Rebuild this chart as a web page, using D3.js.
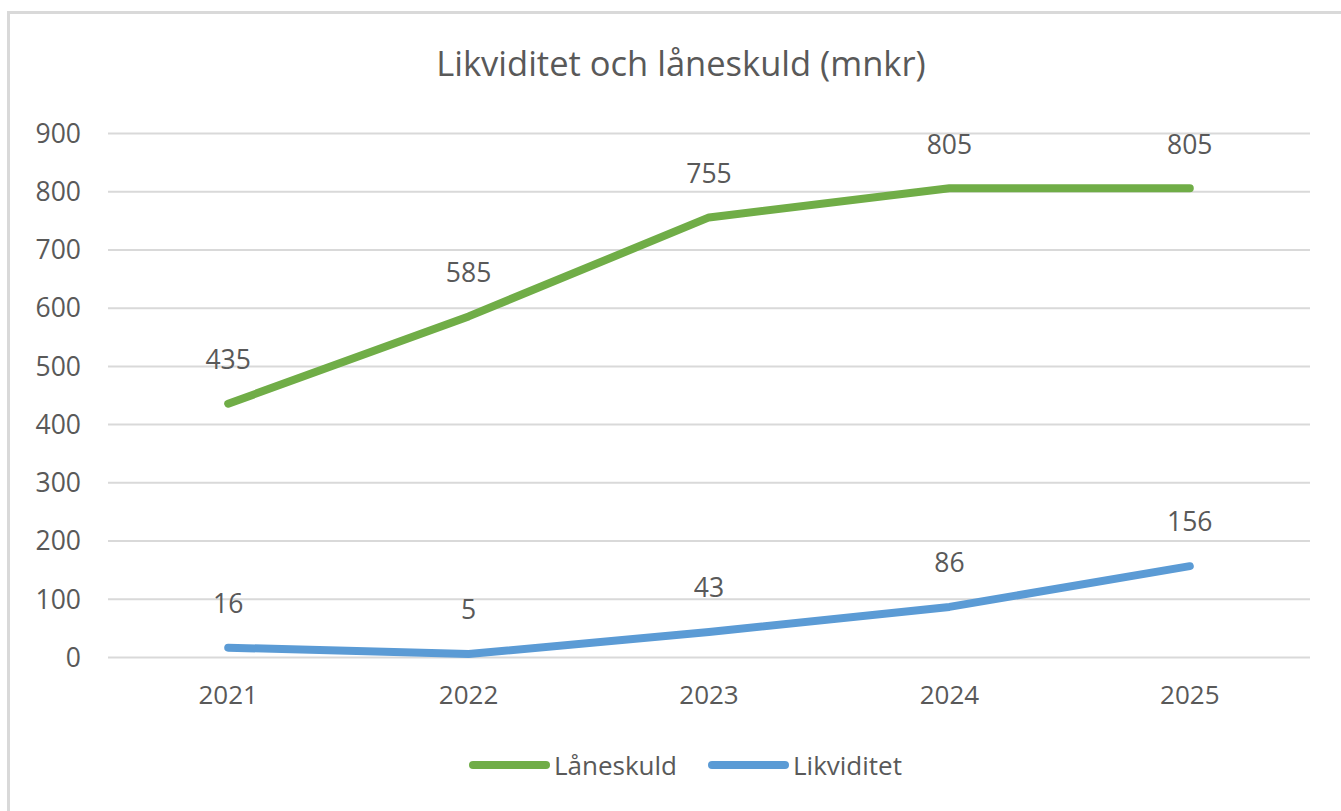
<!DOCTYPE html>
<html><head><meta charset="utf-8">
<script src="https://cdn.jsdelivr.net/npm/d3@7"></script>
<style>body{margin:0;background:#fff}svg{display:block}text{font-family:"Open Sans",sans-serif;fill:#595959}</style>
</head><body><svg id="c" width="1341" height="811"></svg>
<script>
const years = ["2021","2022","2023","2024","2025"];
const laneskuld = [435,585,755,805,805];
const likviditet = [16,5,43,86,156];
const yTicks = [0,100,200,300,400,500,600,700,800,900];
const seriesNames = ["Låneskuld","Likviditet"];
const colors = ["#70AD47","#5B9BD5"];
const title = "Likviditet och låneskuld (mnkr)";

const svg = d3.select("#c");
svg.append("rect").attr("x",8.5).attr("y",12.5).attr("width",1345).attr("height",810)
  .attr("fill","#fff").attr("stroke","#d9d9d9").attr("stroke-width",3);

const pL=108, pR=1310, pT=133, pB=657;
const x = d3.scaleBand().domain(years).range([pL,pR]);
const y = d3.scaleLinear().domain([0,900]).range([pB,pT]);

svg.append("text").attr("x",681).attr("y",76).attr("text-anchor","middle")
  .style("font-size","34.5px").text(title);

const gy = svg.append("g").attr("transform",`translate(${pL},0)`)
  .call(d3.axisLeft(y).tickValues(yTicks).tickSize(-(pR-pL)).tickPadding(27));
gy.select(".domain").remove();
gy.selectAll(".tick line").attr("stroke","#d9d9d9").attr("stroke-width",2);
gy.selectAll(".tick text").style("font-size","26.5px").attr("fill","#595959").attr("dy","0.35em");

const gx = svg.append("g").attr("transform",`translate(0,${pB})`)
  .call(d3.axisBottom(x).tickSize(0).tickPadding(29));
gx.select(".domain").remove();
gx.selectAll(".tick text").style("font-size","26px").attr("fill","#595959");

const data = [laneskuld, likviditet];
const line = d3.line().x((d,i)=>x(years[i])+x.bandwidth()/2).y(d=>y(d));
data.forEach((s,k)=>{
  svg.append("path").datum(s).attr("d",line).attr("fill","none")
    .attr("stroke",colors[k]).attr("stroke-width",8).attr("stroke-linecap","round").attr("stroke-linejoin","round");
  svg.append("g").selectAll("text").data(s).join("text")
    .attr("x",(d,i)=>x(years[i])+x.bandwidth()/2).attr("y",d=>y(d)-44)
    .attr("text-anchor","middle").attr("dy","0.35em").style("font-size","26.5px").text(d=>d);
});

const legX = [469,708];
seriesNames.forEach((n,k)=>{
  svg.append("line").attr("x1",legX[k]+4).attr("x2",legX[k]+77).attr("y1",765).attr("y2",765)
    .attr("stroke",colors[k]).attr("stroke-width",8).attr("stroke-linecap","round");
  svg.append("text").attr("x",legX[k]+85).attr("y",775)
    .style("font-size","26px").text(n);
});
</script></body></html>
